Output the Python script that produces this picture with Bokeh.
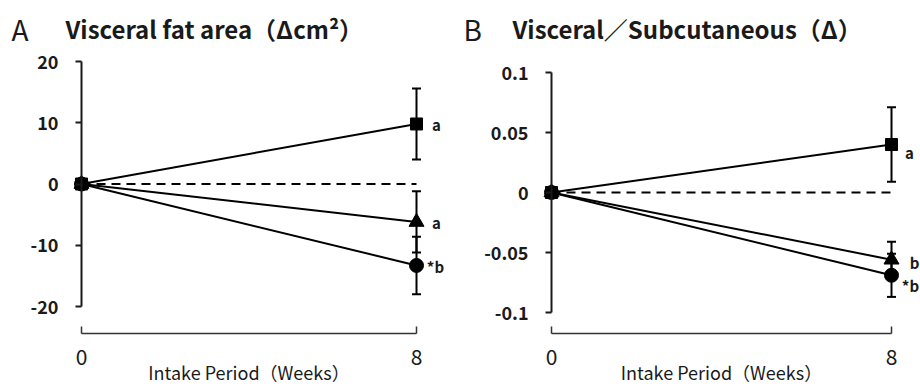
from bokeh.plotting import figure
from bokeh.layouts import row
from bokeh.models import Range1d, FixedTicker, Whisker, TeeHead, ColumnDataSource, Label
from bokeh.core.properties import value
from bokeh.embed import file_html
from bokeh.resources import INLINE

# ---------------- data ----------------
weeks = [0, 8]
x_ticks = [0, 8]
x_label = "Intake Period（Weeks）"

a_title = "Visceral fat area（Δcm²）"
a_ticks = [-20, -10, 0, 10, 20]
a_tick_labels = {-20: "-20", -10: "-10", 0: "0", 10: "10", 20: "20"}
a_square = [0, 9.8]
a_square_err = [0, 5.8]
a_triangle = [0, -6.2]
a_triangle_err = [0, 5.0]
a_circle = [0, -13.3]
a_circle_err = [0, 4.7]
a_letters = ["a", "a", "*b"]

b_title = "Visceral／Subcutaneous（Δ）"
b_ticks = [-0.1, -0.05, 0, 0.05, 0.1]
b_tick_labels = {-0.1: "-0.1", -0.05: "-0.05", 0: "0", 0.05: "0.05", 0.1: "0.1"}
b_square = [0, 0.040]
b_square_err = [0, 0.031]
b_triangle = [0, -0.056]
b_triangle_err = [0, 0.015]
b_circle = [0, -0.069]
b_circle_err = [0, 0.018]
b_letters = ["a", "b", "*b"]

FONT = "Noto Sans CJK JP"
FIG_W, FIG_H = 460, 386
BRACKET_Y = 333  # figure pixels


def make_panel(letter, title, ticks, tick_labels, sq, sq_e, tr, tr_e, ci, ci_e, letters,
               px0, px8, py_top_tick, py_bot_tick, label_offsets):
    # px*, py* are pixel positions inside this figure (frame == whole figure)
    xs = (px8 - px0) / 8.0
    t_hi, t_lo = ticks[-1], ticks[0]
    ys = (py_bot_tick - py_top_tick) / (t_hi - t_lo)

    def dx(px):
        return (px - px0) / xs

    def dy(py):
        return t_hi + (py_top_tick - py) / ys

    p = figure(width=FIG_W, height=FIG_H, output_backend="svg", toolbar_location=None,
               x_range=Range1d(dx(0), dx(FIG_W)), y_range=Range1d(dy(FIG_H), dy(0)),
               min_border=0, min_border_left=0, min_border_right=0,
               min_border_top=0, min_border_bottom=0)
    p.outline_line_color = None
    p.xgrid.visible = False
    p.ygrid.visible = False
    p.background_fill_color = "white"
    p.border_fill_color = "white"

    # y axis at x = 0
    ya = p.yaxis[0]
    ya.fixed_location = 0
    ya.ticker = FixedTicker(ticks=ticks)
    ya.bounds = (t_lo, t_hi)
    ya.minor_tick_line_color = None
    ya.major_tick_in = 0
    ya.major_tick_out = 6
    ya.axis_line_width = 2
    ya.major_tick_line_width = 2
    ya.axis_line_color = "#1a1a1a"
    ya.major_tick_line_color = "#1a1a1a"
    ya.major_label_text_font = FONT
    ya.major_label_text_font_style = "bold"
    ya.major_label_text_font_size = "18px"
    ya.major_label_text_color = "#1a1a1a"
    ya.major_label_standoff = 17
    ya.major_label_overrides = tick_labels

    # x axis bracket
    xa = p.xaxis[0]
    xa.fixed_location = dy(BRACKET_Y)
    xa.ticker = FixedTicker(ticks=x_ticks)
    xa.bounds = (0, 8)
    xa.minor_tick_line_color = None
    xa.major_tick_in = 7
    xa.major_tick_out = 0
    xa.axis_line_width = 1.5
    xa.major_tick_line_width = 1.5
    xa.axis_line_color = "#333333"
    xa.major_tick_line_color = "#333333"
    xa.major_label_text_font = FONT
    xa.major_label_text_font_size = "21px"
    xa.major_label_text_color = "#1a1a1a"
    xa.major_label_standoff = 15

    # zero reference (dashed)
    p.line(weeks, [0, 0], line_color="black", line_width=2, line_dash="9 6")

    # error bars
    for vals, errs in ((sq, sq_e), (tr, tr_e), (ci, ci_e)):
        bx = [w for w, e in zip(weeks, errs) if e > 0]
        up = [v + e for v, e in zip(vals, errs) if e > 0]
        lo = [v - e for v, e in zip(vals, errs) if e > 0]
        src = ColumnDataSource(dict(base=bx, upper=up, lower=lo))
        wk = Whisker(base="base", upper="upper", lower="lower", source=src,
                     line_color="black", line_width=2, dimension="height",
                     upper_head=TeeHead(size=9, line_width=2, line_color="black"),
                     lower_head=TeeHead(size=9, line_width=2, line_color="black"))
        p.add_layout(wk)

    # lines
    for vals in (sq, tr, ci):
        p.line(weeks, vals, line_color="black", line_width=2)

    # markers
    p.scatter(weeks, tr, marker="triangle", size=15, color="black")
    p.scatter(weeks, ci, marker="circle", size=14, color="black")
    p.scatter(weeks, sq, marker="square", size=12, color="black")

    # significance letters
    for vals, txt, (ox, oy) in zip((sq, tr, ci), letters, label_offsets):
        p.text([weeks[-1]], [vals[-1]], text=[txt], x_offset=ox, y_offset=oy,
               text_font=value(FONT), text_font_style="bold", text_font_size="15px",
               text_align="center", text_baseline="middle", text_color="#1a1a1a")

    # panel letter and title
    p.add_layout(Label(x=dx(letter[1]), y=dy(28), text=letter[0], text_font=FONT,
                       text_font_size="28px", text_baseline="middle", text_color="#1a1a1a"))
    p.add_layout(Label(x=dx(letter[2]), y=dy(28), text=title, text_font=FONT,
                       text_font_style="bold", text_font_size="24px",
                       text_baseline="middle", text_color="#1a1a1a"))
    # x axis title
    p.add_layout(Label(x=(dx(px0) + dx(px8)) / 2, y=dy(371), text=x_label, text_font=FONT,
                       text_font_size="18px", text_align="center", text_baseline="middle",
                       text_color="#1a1a1a"))
    return p


pa = make_panel(("A", 11, 65), a_title, a_ticks, a_tick_labels, a_square, a_square_err,
                a_triangle, a_triangle_err, a_circle, a_circle_err, a_letters,
                px0=81, px8=416, py_top_tick=61, py_bot_tick=306,
                label_offsets=[(20, 1), (20, 1), (19, 1)])
pb = make_panel(("B", 3, 52), b_title, b_ticks, b_tick_labels, b_square, b_square_err,
                b_triangle, b_triangle_err, b_circle, b_circle_err, b_letters,
                px0=91, px8=431, py_top_tick=72, py_bot_tick=312,
                label_offsets=[(18, 8), (23, 3), (19, 10)])

layout = row(pa, pb, spacing=0)
open("out.html", "w").write(file_html(layout, INLINE))
